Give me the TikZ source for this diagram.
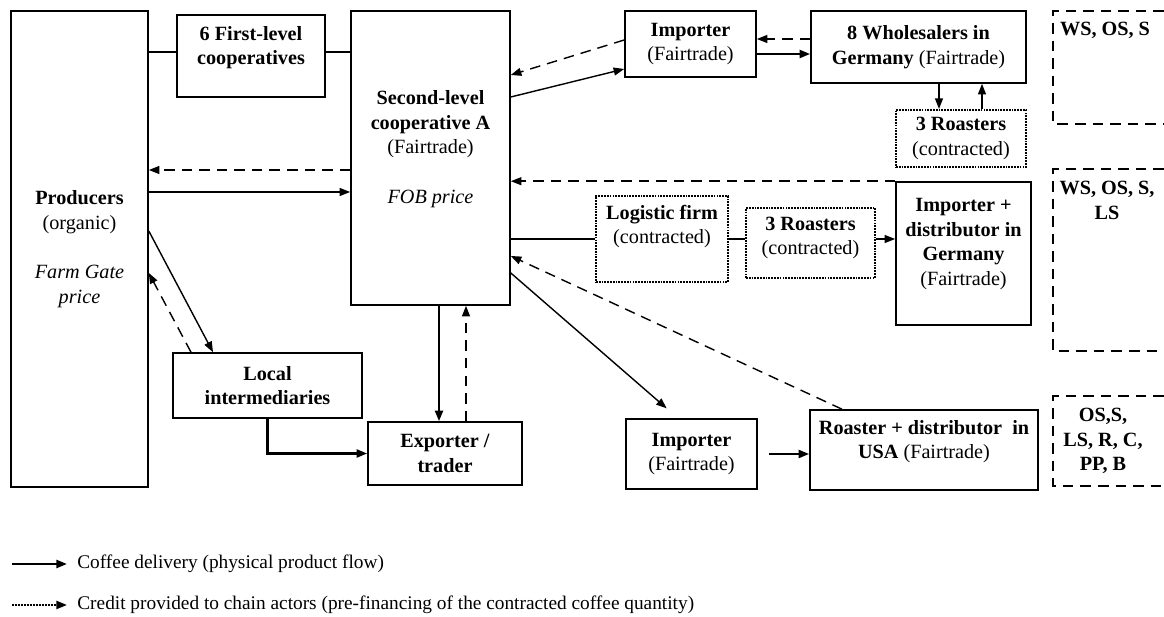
\documentclass[tikz,border=0pt]{standalone}
\usepackage{fontspec}
\setmainfont{Liberation Serif}
\usetikzlibrary{arrows.meta}

% extra empty line below the text, to lift it inside its box
\newcommand{\lowpad}[1]{\\[#1]\mbox{}}

\begin{document}
\begin{tikzpicture}[
    x=0.02cm, y=-0.02cm,
    font=\fontsize{11.5}{14}\selectfont,
    box/.style={rectangle, draw, line width=0.9pt, align=center, inner sep=1pt},
    dotbox/.style={box, line width=1.2pt, dash pattern=on 1pt off 0.6pt},
    sz/.style 2 args={minimum width=#1*0.02cm, minimum height=#2*0.02cm},
    flow/.style={-{Triangle[length=6pt,width=4.5pt]}, line width=0.8pt},
    heavy/.style={flow, line width=1.3pt},
    credit/.style={flow, dash pattern=on 6pt off 4pt},
    link/.style={line width=0.8pt},
    openbox/.style={line width=1.2pt, dash pattern=on 6pt off 4pt},
    tag/.style={font=\fontsize{11.5}{14}\selectfont\bfseries, align=center, inner sep=0pt},
    legtext/.style={anchor=west, inner sep=0pt, font=\fontsize{11}{13.6}\selectfont},
]
\useasboundingbox (0,0) rectangle (1164,617);

\node[box, sz={137}{476}]    (prod)    at (79.5,249)  {\textbf{Producers}\\(organic)\\[14pt]\textit{Farm Gate}\\\textit{price}};
\node[box, sz={148}{82}]     (first)   at (251,56)    {\textbf{6 First-level}\\\textbf{cooperatives}\lowpad{-1.9pt}};
\node[box, sz={159}{294}]    (coop)    at (430.5,158) {\textbf{Second-level}\\\textbf{cooperative A}\\(Fairtrade)\\[14pt]\textit{FOB price}\lowpad{-1.3pt}};
\node[box, sz={131}{66}]     (imp1)    at (690.5,44)  {\textbf{Importer}\\(Fairtrade)};
\node[box, sz={215}{72}]     (whole)   at (918.5,47)  {\textbf{8 Wholesalers in}\\\textbf{Germany} (Fairtrade)};
\node[dotbox, sz={130}{57}]  (roast1)  at (961,138.5) {\textbf{3 Roasters}\\(contracted)};
\node[dotbox, sz={132}{86}]  (log)     at (662,239)   {\textbf{Logistic firm}\\(contracted)\lowpad{2.7pt}};
\node[dotbox, sz={129}{70}]  (roast2)  at (810.5,243) {\textbf{3 Roasters}\\(contracted)\lowpad{-5.9pt}};
\node[box, sz={135}{143}]    (impdist) at (963.5,253.5) {\textbf{Importer +}\\\textbf{distributor in}\\\textbf{Germany}\\(Fairtrade)\lowpad{-0.7pt}};
\node[box, sz={189}{65}]     (local)   at (267.5,385.5) {\textbf{Local}\\\textbf{intermediaries}};
\node[box, sz={154}{63}]     (exp)     at (445,453.5) {\textbf{Exporter /}\\\textbf{trader}};
\node[box, sz={131}{70}]     (impusa)  at (691.5,454) {\textbf{Importer}\\(Fairtrade)};
\node[box, sz={228}{80}]     (rousa)   at (924,450)   {\textbf{Roaster + distributor~ in}\\\textbf{USA} (Fairtrade)\lowpad{-1.9pt}};

% product groups, boxes open at the right edge
\draw[openbox] (1164,11) -- (1053,11) -- (1053,124) -- (1164,124);
\draw[openbox] (1164,169) -- (1053,169) -- (1053,351) -- (1164,351);
\draw[openbox] (1164,396) -- (1053,396) -- (1053,486) -- (1164,486);
\node[tag, anchor=north] (ws1) at (1105,22)  {WS, OS, S};
\node[tag, anchor=north] (ws2) at (1107,181) {WS, OS, S,\\LS};
\node[tag]               (ws3) at (1103,441) {OS,S,\\LS, R, C,\\PP, B};

% producers side
\draw[link] (prod.east |- 0,52) -- (first.west |- 0,52);
\draw[link] (first.east |- 0,52) -- (coop.west |- 0,52);
\draw[credit] (coop.west |- 0,170) -- (prod.east |- 0,170);
\draw[flow] (prod.east |- 0,192) -- (coop.west |- 0,192);
\draw[flow] (prod.east |- 0,231) -- (local.north -| 213,0);
\draw[credit] (local.north -| 191,0) -- (prod.east |- 0,273);
\draw[heavy] (local.south) |- (exp.west);
\draw[heavy] (coop.south -| 439,0) -- (exp.north -| 439,0);
\draw[credit] (exp.north -| 466,0) -- (coop.south -| 466,0);

% Germany
\draw[credit] (imp1.west |- 0,40) -- (coop.east |- 0,75);
\draw[flow] (coop.east |- 0,97) -- (imp1.west |- 0,69);
\draw[credit] (whole.west |- 0,39) -- (imp1.east |- 0,39);
\draw[heavy] (imp1.east |- 0,54) -- (whole.west |- 0,54);
\draw[flow] (whole.south -| 939,0) -- (roast1.north -| 939,0);
\draw[flow] (roast1.north -| 982,0) -- (whole.south -| 982,0);
\draw[credit] (impdist.north west) -- (coop.east |- impdist.north west);
\draw[link] (coop.east |- log.west) -- (log.west);
\draw[link] (log.east) -- (log.east -| roast2.west);
\draw[flow] (log.east -| roast2.east) -- (log.east -| impdist.west);

% USA
\draw[credit] (rousa.north -| 842,0) -- (coop.east |- 0,256);
\draw[flow, shorten >=0.3cm] (coop.east |- 0,273) -- (impusa.north -| 678,0);
\draw[heavy, shorten <=0.22cm] (impusa.east) -- (impusa.east -| rousa.west);

% legend
\coordinate (leg1) at (12,564);
\coordinate (leg2) at (12,605);
\node[legtext] (legflow)   at (77,564) {Coffee delivery (physical product flow)};
\node[legtext] (legcredit) at (77,605) {Credit provided to chain actors (pre-financing of the contracted coffee quantity)};
\draw[heavy, shorten >=0.2cm] (leg1) -- (legflow.west);
\draw[flow, line width=1.2pt, dash pattern=on 1pt off 0.7pt, shorten >=0.2cm] (leg2) -- (legcredit.west);

\end{tikzpicture}
\end{document}
